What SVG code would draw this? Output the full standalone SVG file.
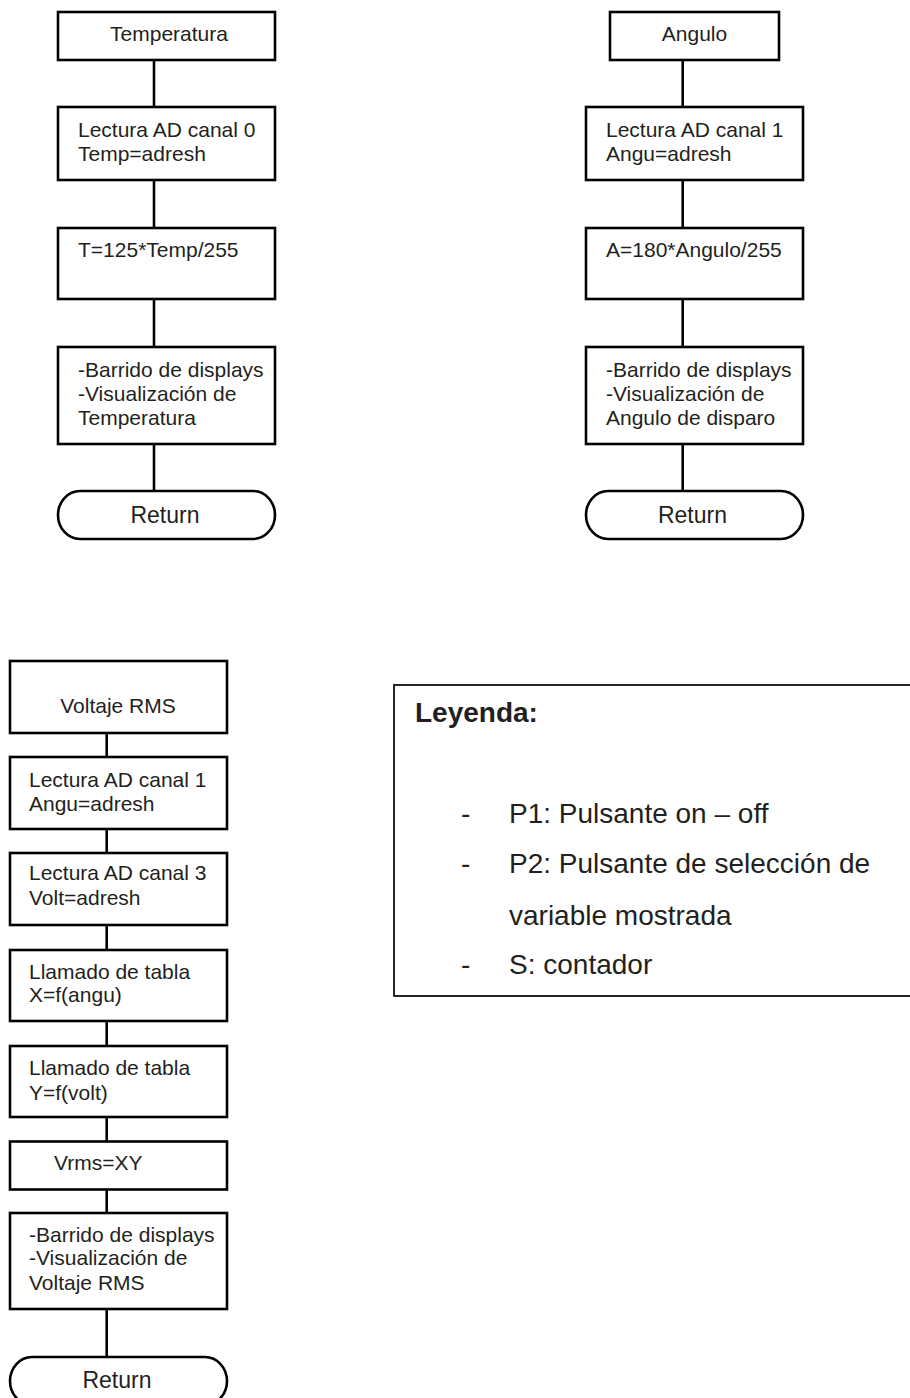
<svg xmlns="http://www.w3.org/2000/svg" width="910" height="1398" viewBox="0 0 910 1398">
<style>
.box{fill:#fff;stroke:#000;stroke-width:2.6}
.conn line{stroke:#000;stroke-width:2.6}
text{font-family:"Liberation Sans",Arial,sans-serif;fill:#231f20}
.t{font-size:21px}
.r{font-size:23px;text-anchor:middle}
.c{text-anchor:middle}
.leg{fill:none;stroke:#000;stroke-width:1.7}
.lt{font-size:28px}
.lb{font-size:28px;font-weight:bold}
</style>
<rect width="910" height="1398" fill="#fff"/>
<g id="connectors" class="conn">
<line x1="154" y1="60" x2="154" y2="107"/>
<line x1="154" y1="180" x2="154" y2="228"/>
<line x1="154" y1="299" x2="154" y2="347"/>
<line x1="154" y1="444" x2="154" y2="491"/>
<line x1="682.7" y1="60" x2="682.7" y2="107"/>
<line x1="682.7" y1="180" x2="682.7" y2="228"/>
<line x1="682.7" y1="299" x2="682.7" y2="347"/>
<line x1="682.7" y1="444" x2="682.7" y2="491"/>
<line x1="106.7" y1="733" x2="106.7" y2="757"/>
<line x1="106.7" y1="829" x2="106.7" y2="853"/>
<line x1="106.7" y1="925" x2="106.7" y2="950"/>
<line x1="106.7" y1="1021" x2="106.7" y2="1046"/>
<line x1="106.7" y1="1117" x2="106.7" y2="1141.5"/>
<line x1="106.7" y1="1189" x2="106.7" y2="1213"/>
<line x1="106.7" y1="1309" x2="106.7" y2="1357"/>
</g>
<g id="t1"><rect class="box" x="58" y="12" width="217" height="48"/><text class="t c" x="169" y="41">Temperatura</text></g>
<g id="t2"><rect class="box" x="58" y="107" width="217" height="73"/><text class="t" x="78" y="137">Lectura AD canal 0</text><text class="t" x="78" y="161">Temp=adresh</text></g>
<g id="t3"><rect class="box" x="58" y="228" width="217" height="71"/><text class="t" x="78" y="257">T=125*Temp/255</text></g>
<g id="t4"><rect class="box" x="58" y="347" width="217" height="97"/><text class="t" x="78" y="377">-Barrido de displays</text><text class="t" x="78" y="401">-Visualización de</text><text class="t" x="78" y="425">Temperatura</text></g>
<g id="t5"><rect class="box" x="58" y="491" width="217" height="48" rx="22" ry="24"/><text class="r" x="165" y="523">Return</text></g>
<g id="a1"><rect class="box" x="610" y="12" width="169" height="48"/><text class="t c" x="694.5" y="41">Angulo</text></g>
<g id="a2"><rect class="box" x="586" y="107" width="217" height="73"/><text class="t" x="606" y="137">Lectura AD canal 1</text><text class="t" x="606" y="161">Angu=adresh</text></g>
<g id="a3"><rect class="box" x="586" y="228" width="217" height="71"/><text class="t" x="606" y="257">A=180*Angulo/255</text></g>
<g id="a4"><rect class="box" x="586" y="347" width="217" height="97"/><text class="t" x="606" y="377">-Barrido de displays</text><text class="t" x="606" y="401">-Visualización de</text><text class="t" x="606" y="425">Angulo de disparo</text></g>
<g id="a5"><rect class="box" x="586" y="491" width="217" height="48" rx="22" ry="24"/><text class="r" x="692.5" y="523">Return</text></g>
<g id="v1"><rect class="box" x="10" y="661" width="217" height="72"/><text class="t c" x="118" y="713">Voltaje RMS</text></g>
<g id="v2"><rect class="box" x="10" y="757" width="217" height="72"/><text class="t" x="29" y="787">Lectura AD canal 1</text><text class="t" x="29" y="811">Angu=adresh</text></g>
<g id="v3"><rect class="box" x="10" y="853" width="217" height="72"/><text class="t" x="29" y="880">Lectura AD canal 3</text><text class="t" x="29" y="905">Volt=adresh</text></g>
<g id="v4"><rect class="box" x="10" y="950" width="217" height="71"/><text class="t" x="29" y="979">Llamado de tabla</text><text class="t" x="29" y="1002">X=f(angu)</text></g>
<g id="v5"><rect class="box" x="10" y="1046" width="217" height="71"/><text class="t" x="29" y="1075">Llamado de tabla</text><text class="t" x="29" y="1100">Y=f(volt)</text></g>
<g id="v6"><rect class="box" x="10" y="1141.5" width="217" height="48"/><text class="t" x="54" y="1170">Vrms=XY</text></g>
<g id="v7"><rect class="box" x="10" y="1213" width="217" height="96"/><text class="t" x="29" y="1242">-Barrido de displays</text><text class="t" x="29" y="1265">-Visualización de</text><text class="t" x="29" y="1290">Voltaje RMS</text></g>
<g id="v8"><rect class="box" x="10" y="1357" width="217" height="48" rx="22" ry="24"/><text class="r" x="117" y="1388">Return</text></g>
<g id="legend">
<rect class="leg" x="394" y="685" width="520" height="311"/>
<text class="lb" x="415" y="722">Leyenda:</text>
<text class="lt" x="461" y="823">-</text><text class="lt" x="509" y="823">P1: Pulsante on – off</text>
<text class="lt" x="461" y="873">-</text><text class="lt" x="509" y="873">P2: Pulsante de selección de</text>
<text class="lt" x="509" y="925">variable mostrada</text>
<text class="lt" x="461" y="974">-</text><text class="lt" x="509" y="974">S: contador</text>
</g>
</svg>
